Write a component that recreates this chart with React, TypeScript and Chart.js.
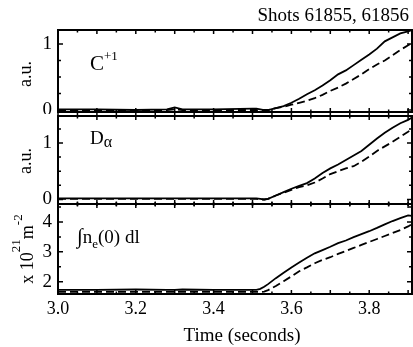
import React, { useEffect, useRef } from "react";
import { Chart, registerables } from "chart.js";

Chart.register(...registerables);

// ---------- data ----------
const TIME = [
  3.0, 3.1, 3.2, 3.28, 3.3, 3.32, 3.4, 3.5, 3.51, 3.52, 3.53, 3.54,
  3.56, 3.58, 3.6, 3.62, 3.64, 3.66, 3.68, 3.7, 3.72, 3.74, 3.76, 3.78,
  3.8, 3.82, 3.84, 3.86, 3.88, 3.9, 3.91,
];

// C+1 emission (a.u.)
const C1_SHOT_55 = [
  0.01, 0.01, 0.0, 0.01, 0.04, 0.01, 0.01, 0.02, 0.02, 0.01, 0.0, 0.0,
  0.03, 0.06, 0.11, 0.17, 0.24, 0.3, 0.37, 0.45, 0.54, 0.6, 0.68, 0.76,
  0.84, 0.93, 1.04, 1.1, 1.16, 1.19, 1.21,
];
const C1_SHOT_56 = [
  0.0, 0.0, -0.01, 0.0, 0.01, 0.0, 0.0, 0.0, 0.0, -0.01, 0.0, 0.0,
  0.03, 0.05, 0.08, 0.11, 0.14, 0.18, 0.23, 0.29, 0.34, 0.4, 0.47, 0.54,
  0.62, 0.69, 0.75, 0.83, 0.91, 0.98, 1.02,
];

// D-alpha (a.u.)
const DA_SHOT_55 = [
  0.02, 0.02, 0.02, 0.02, 0.02, 0.02, 0.02, 0.02, 0.02, 0.01, 0.0, 0.01,
  0.07, 0.13, 0.19, 0.24, 0.29, 0.37, 0.47, 0.55, 0.62, 0.7, 0.78, 0.86,
  0.97, 1.08, 1.18, 1.27, 1.35, 1.41, 1.45,
];
const DA_SHOT_56 = [
  0.01, 0.01, 0.01, 0.01, 0.01, 0.01, 0.01, 0.01, 0.01, 0.0, 0.0, 0.01,
  0.07, 0.12, 0.17, 0.22, 0.25, 0.3, 0.37, 0.45, 0.5, 0.55, 0.59, 0.67,
  0.76, 0.86, 0.94, 1.02, 1.11, 1.2, 1.25,
];

// line-integrated density (x 10^21 m^-2)
const NE_SHOT_55 = [
  1.73, 1.73, 1.74, 1.73, 1.73, 1.74, 1.73, 1.73, 1.73, 1.76, 1.83, 1.92,
  2.12, 2.3, 2.48, 2.64, 2.8, 2.95, 3.06, 3.17, 3.29, 3.38, 3.49, 3.59,
  3.69, 3.8, 3.92, 4.03, 4.13, 4.22, 4.2,
];
const NE_SHOT_56 = [
  1.66, 1.66, 1.66, 1.66, 1.66, 1.66, 1.66, 1.66, 1.66, 1.66, 1.67, 1.72,
  1.86, 2.02, 2.18, 2.35, 2.48, 2.62, 2.73, 2.82, 2.93, 3.03, 3.13, 3.23,
  3.33, 3.43, 3.53, 3.63, 3.73, 3.85, 3.93,
];

const X_TICKS = [3.0, 3.2, 3.4, 3.6, 3.8];
const C1_TICKS = [0, 1];
const DA_TICKS = [0, 1];
const NE_TICKS = [2, 3, 4];

const TITLE = "Shots 61855, 61856";
const X_TITLE = "Time (seconds)";

// ---------- drawing helpers ----------
const FONT = '"Liberation Serif", "Times New Roman", serif';

type Piece = { t: string; size: number; dy?: number };
type Label = {
  parts: Piece[];
  x: number;
  y: number;
  align: "left" | "center" | "right";
  rotate?: boolean;
};

function drawLabel(ctx: CanvasRenderingContext2D, lab: Label, offY: number) {
  ctx.save();
  ctx.fillStyle = "#000";
  ctx.textBaseline = "alphabetic";
  ctx.textAlign = "left";
  let total = 0;
  const widths = lab.parts.map((p) => {
    ctx.font = `${p.size}px ${FONT}`;
    const w = ctx.measureText(p.t).width;
    total += w;
    return w;
  });
  ctx.translate(lab.x, lab.y - offY);
  if (lab.rotate) ctx.rotate(-Math.PI / 2);
  let cx = lab.align === "left" ? 0 : lab.align === "center" ? -total / 2 : -total;
  lab.parts.forEach((p, i) => {
    ctx.font = `${p.size}px ${FONT}`;
    ctx.fillText(p.t, cx, p.dy || 0);
    cx += widths[i];
  });
  ctx.restore();
}

type PanelCfg = {
  offY: number;
  yMinor: number;
  topOut: boolean;
  bottomOut: boolean;
  labels: Label[];
};

function framePlugin(cfg: PanelCfg) {
  return {
    id: "frame",
    afterDraw(chart: any) {
      const { ctx, chartArea: a, scales } = chart;
      const xs = scales.x;
      const ys = scales.y;
      ctx.save();
      ctx.strokeStyle = "#000";
      ctx.lineWidth = 2;
      ctx.strokeRect(a.left, a.top, a.right - a.left, a.bottom - a.top);
      ctx.lineWidth = 1.5;
      ctx.beginPath();
      // x ticks every 0.05, major every 0.1
      for (let k = 0; k <= 20; k++) {
        const v = 3.0 + k * 0.05;
        if (v > xs.max + 1e-9) break;
        const px = xs.getPixelForValue(v);
        const len = k % 2 === 0 ? 4 : 2.5;
        ctx.moveTo(px, cfg.topOut ? a.top - len : a.top);
        ctx.lineTo(px, a.top + len);
        ctx.moveTo(px, a.bottom - len);
        ctx.lineTo(px, cfg.bottomOut ? a.bottom + len : a.bottom);
      }
      // y ticks
      const step = cfg.yMinor;
      const start = Math.ceil(ys.min / step) * step;
      for (let v = start; v <= ys.max + 1e-9; v += step) {
        const py = ys.getPixelForValue(v);
        const major = Math.abs(v - Math.round(v)) < 1e-6;
        const len = major ? 5 : 3;
        ctx.moveTo(a.left, py);
        ctx.lineTo(a.left + len, py);
        ctx.moveTo(a.right, py);
        ctx.lineTo(a.right - len, py);
      }
      ctx.stroke();
      ctx.restore();
      cfg.labels.forEach((l) => drawLabel(ctx, l, cfg.offY));
    },
  };
}

type MakeOpts = {
  solid: number[];
  dashed: number[];
  yMin: number;
  yMax: number;
  yTicks: number[];
  padTop: number;
  padBottom: number;
  showX: boolean;
  panel: PanelCfg;
};

function makeChart(canvas: HTMLCanvasElement, o: MakeOpts) {
  const ds = (vals: number[], dash: number[]) => ({
    data: TIME.map((t, i) => ({ x: t, y: vals[i] })),
    borderColor: "#000",
    backgroundColor: "#000",
    borderWidth: 1.8,
    borderDash: dash,
    pointRadius: 0,
    tension: 0,
    fill: false,
  });
  return new Chart(canvas, {
    type: "line",
    data: { datasets: [ds(o.solid, []), ds(o.dashed, [8, 4])] as any },
    options: {
      responsive: false,
      animation: false,
      devicePixelRatio: 1,
      layout: { padding: { top: o.padTop, bottom: o.padBottom, left: 0, right: 1 } },
      plugins: {
        legend: { display: false },
        tooltip: { enabled: false },
        title: { display: false },
      },
      scales: {
        x: {
          type: "linear",
          min: 3.0,
          max: 3.91,
          display: o.showX,
          grid: { display: false, drawTicks: false },
          border: { display: false },
          afterBuildTicks: (s: any) => {
            s.ticks = X_TICKS.map((v) => ({ value: v }));
          },
          afterFit: (s: any) => {
            if (o.showX) s.height = 53;
            else s.height = 0;
            s.paddingLeft = 0;
            s.paddingRight = 0;
          },
          ticks: {
            font: { family: FONT, size: 18 },
            color: "#000",
            padding: 4,
            maxRotation: 0,
            autoSkip: false,
            callback: (v: any) => Number(v).toFixed(1),
          },
        },
        y: {
          type: "linear",
          min: o.yMin,
          max: o.yMax,
          grid: { display: false, drawTicks: false },
          border: { display: false },
          afterBuildTicks: (s: any) => {
            s.ticks = o.yTicks.map((v) => ({ value: v }));
          },
          afterFit: (s: any) => {
            s.width = 58;
            s.paddingTop = 0;
            s.paddingBottom = 0;
          },
          ticks: {
            font: { family: FONT, size: 19 },
            color: "#000",
            padding: 6,
            autoSkip: false,
            callback: (v: any) => String(v),
          },
        },
      },
    } as any,
    plugins: [framePlugin(o.panel)],
  });
}

export default function App() {
  const r1 = useRef<HTMLCanvasElement>(null);
  const r2 = useRef<HTMLCanvasElement>(null);
  const r3 = useRef<HTMLCanvasElement>(null);

  useEffect(() => {
    const c1 = makeChart(r1.current!, {
      solid: C1_SHOT_55,
      dashed: C1_SHOT_56,
      yMin: -0.03,
      yMax: 1.212,
      yTicks: C1_TICKS,
      padTop: 30,
      padBottom: 2,
      showX: false,
      panel: {
        offY: 0,
        yMinor: 0.25,
        topOut: false,
        bottomOut: true,
        labels: [
          { parts: [{ t: TITLE, size: 19 }], x: 409, y: 21, align: "right" },
          {
            parts: [
              { t: "C", size: 21 },
              { t: "+1", size: 13, dy: -10 },
            ],
            x: 90,
            y: 70,
            align: "left",
          },
          { parts: [{ t: "a.u.", size: 18 }], x: 31, y: 74, align: "center", rotate: true },
        ],
      },
    });
    const c2 = makeChart(r2.current!, {
      solid: DA_SHOT_55,
      dashed: DA_SHOT_56,
      yMin: -0.08,
      yMax: 1.478,
      yTicks: DA_TICKS,
      padTop: 2,
      padBottom: 2,
      showX: false,
      panel: {
        offY: 114,
        yMinor: 0.25,
        topOut: true,
        bottomOut: true,
        labels: [
          {
            parts: [
              { t: "D", size: 19 },
              { t: "α", size: 16, dy: 3 },
            ],
            x: 90,
            y: 144,
            align: "left",
          },
          { parts: [{ t: "a.u.", size: 18 }], x: 31, y: 161, align: "center", rotate: true },
        ],
      },
    });
    const c3 = makeChart(r3.current!, {
      solid: NE_SHOT_55,
      dashed: NE_SHOT_56,
      yMin: 1.59,
      yMax: 4.6,
      yTicks: NE_TICKS,
      padTop: 2,
      padBottom: 0,
      showX: true,
      panel: {
        offY: 202,
        yMinor: 0.5,
        topOut: true,
        bottomOut: false,
        labels: [
          {
            parts: [
              { t: "∫", size: 21 },
              { t: "n", size: 19 },
              { t: "e", size: 13, dy: 5 },
              { t: "(0) dl", size: 19 },
            ],
            x: 77,
            y: 243,
            align: "left",
          },
          {
            parts: [
              { t: "x 10", size: 18 },
              { t: "21", size: 13, dy: -13 },
              { t: "m", size: 18 },
              { t: "-2", size: 13, dy: -11 },
            ],
            x: 33,
            y: 249,
            align: "center",
            rotate: true,
          },
          { parts: [{ t: X_TITLE, size: 19 }], x: 242, y: 341, align: "center" },
        ],
      },
    });
    return () => {
      c1.destroy();
      c2.destroy();
      c3.destroy();
    };
  }, []);

  const cs = (top: number, h: number): React.CSSProperties => ({
    position: "absolute",
    left: 0,
    top,
    width: 413,
    height: h,
  });

  return (
    <div
      style={{
        position: "absolute",
        left: 0,
        top: 0,
        width: 413,
        height: 347,
        background: "#fff",
        overflow: "hidden",
      }}
    >
      <canvas ref={r1} width={413} height={114} style={cs(0, 114)} />
      <canvas ref={r2} width={413} height={92} style={cs(114, 92)} />
      <canvas ref={r3} width={413} height={145} style={cs(202, 145)} />
    </div>
  );
}
